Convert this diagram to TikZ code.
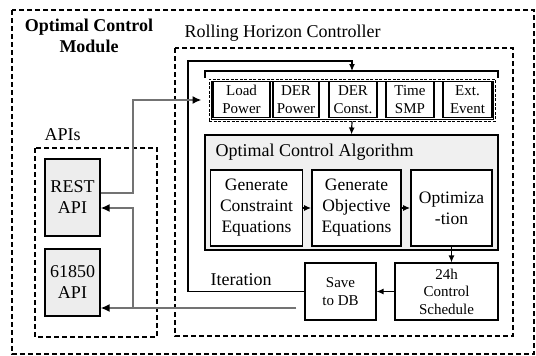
\documentclass[tikz,border=0pt]{standalone}
\usepackage{fontspec}
\setmainfont{Liberation Serif}
\usetikzlibrary{arrows.meta, positioning, calc}

\begin{document}
\begin{tikzpicture}[
    x=1pt, y=-1pt,
    zone/.style={draw, dash pattern=on 5pt off 3pt, line width=1.4pt},
    bigtext/.style={font=\fontsize{18}{21.6}\selectfont},
    inbox/.style={draw, line width=1.1pt, fill=white, minimum height=36pt, inner sep=1pt, align=center, font=\fontsize{15}{17.5}\selectfont},
    algbox/.style={draw, line width=1.8pt, fill=white, minimum height=76pt, inner sep=1pt, align=center, font=\fontsize{17.5}{21}\selectfont},
    outbox/.style={draw, line width=1.1pt, minimum height=57pt, inner sep=1pt, align=center, font=\fontsize{15}{17.5}\selectfont},
    apibox/.style={draw, line width=1.1pt, fill=black!7, minimum width=55pt, inner sep=1pt, align=center, font=\fontsize{18}{21}\selectfont},
    flow/.style={-{Latex[length=7pt,width=6pt]}, line width=1.2pt},
    apilink/.style={draw=black!55, line width=1.8pt, -{Latex[length=9pt,width=8pt,color=black]}}
]
\useasboundingbox (0,0) rectangle (536,356);
% Module frame
\draw[zone] (12,10) rectangle (534,354);
\node[font=\bfseries\fontsize{18}{21}\selectfont, align=center] (title) at (89,36) {Optimal Control\\Module};

% Rolling horizon controller
\node[bigtext, anchor=west] (rhclabel) at (181,33) {Rolling Horizon Controller};
\draw[zone] (175,48) rectangle (513,336);

% APIs
\node[bigtext, anchor=west] (apilabel) at (41,135) {APIs};
\draw[zone] (35,148) rectangle (157,337);
\node[apibox, minimum height=77pt] (rest) at (72.5,197.5) {REST\\API};
\node[apibox, minimum height=67pt] (iec) at (72.5,282.5) {61850\\API};

% Inputs
\draw[line width=1.2pt] (205,78) -- (205,71) -- (498,71) -- (498,78);
\node[draw, dash pattern=on 3pt off 1.5pt, line width=0.9pt, minimum width=286pt, minimum height=42pt] (inputs) at (352,100) {};
\draw[line width=0.5pt] ($(inputs.north west)+(2.5,2.5)$) rectangle ($(inputs.south east)+(-2.5,-2.5)$);
\node[inbox, minimum width=57pt] (load) at (241.5,99.5) {Load\\Power};
\node[inbox, minimum width=46pt] (derp) at (296,99.5) {DER\\Power};
\node[inbox, minimum width=48pt] (derc) at (353,99.5) {DER\\Const.};
\node[inbox, minimum width=48pt] (smp) at (410,99.5) {Time\\SMP};
\node[inbox, minimum width=49pt] (event) at (467.5,99.5) {Ext.\\Event};

% Optimal control algorithm
\node[draw, line width=1.1pt, fill=black!6, minimum width=293pt, minimum height=115pt] (alg) at (351.5,192.5) {};
\node[bigtext, anchor=west] (algtitle) at (212,152) {Optimal Control Algorithm};
\node[algbox, minimum width=92pt] (gencon) at (256.5,208) {Generate\\Constraint\\Equations};
\node[algbox, minimum width=89pt] (genobj) at (356.5,208) {Generate\\Objective\\Equations};
\node[algbox, minimum width=81pt] (optim) at (451.5,208) {Optimiza\\-tion};

% Outputs
\node[outbox, minimum width=103pt] (sched) at (446.5,291.5) {24h\\Control\\Schedule};
\node[outbox, minimum width=71pt] (save) at (340.5,291.5) {Save\\to DB};
\node[bigtext, anchor=west] (iterlabel) at (207,280) {Iteration};

% Flow inside the controller
\coordinate (loopcorner) at (188,61);
\coordinate (brk) at (352,71);
\draw[flow] (inputs.south) -- (alg.north);
\draw[flow] (gencon) -- (genobj);
\draw[flow] (genobj) -- (optim);
\draw[flow] (optim.south) -- (optim.south |- sched.north);
\draw[flow] (sched) -- (save);
\draw[flow] (save.west) -| (loopcorner) -| (brk);

% API links
\coordinate (restout) at (133,193);
\coordinate (restin) at (133,208);
\coordinate (dbbus) at (133,308);
\coordinate (dbend) at ($(save.west |- dbbus)+(-8,0)$);
\draw[apilink, shorten >=7pt] (rest.east |- restout) -- (restout) |- (inputs.west);
\draw[apilink] (dbend) -- (iec.east |- dbbus);
\draw[apilink] (dbbus) |- (rest.east |- restin);
\end{tikzpicture}
\end{document}
